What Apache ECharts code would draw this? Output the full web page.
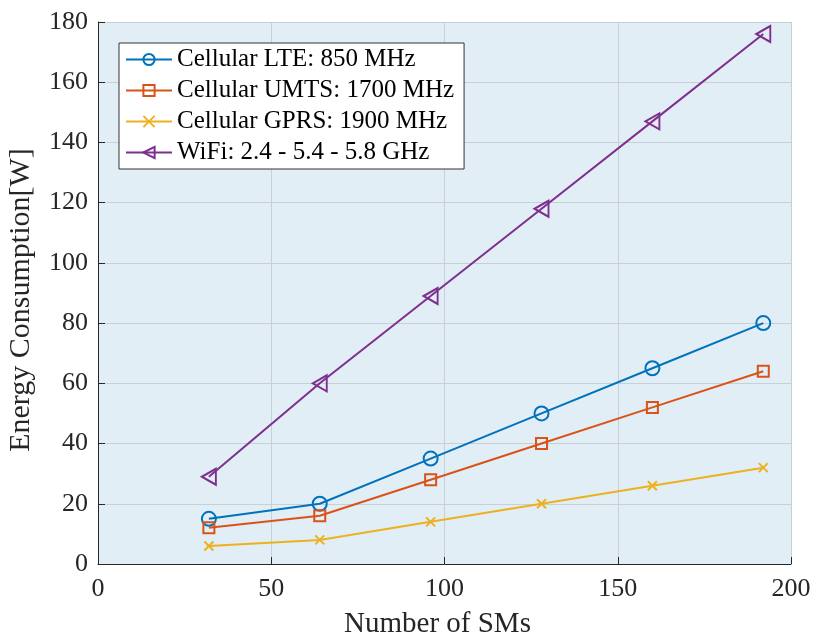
<!DOCTYPE html>
<html>
<head>
<meta charset="utf-8">
<script src="https://cdn.jsdelivr.net/npm/echarts@6/dist/echarts.min.js"></script>
<style>
html, body { margin: 0; padding: 0; background: #fff; }
#main { width: 813px; height: 641px; }
</style>
</head>
<body>
<div id="main"></div>
<script>
var sms = [32, 64, 96, 128, 160, 192];
var lte = [15, 20, 35, 50, 65, 80];
var umts = [12, 16, 28, 40, 52, 64];
var gprs = [6, 8, 14, 20, 26, 32];
var wifi = [29, 60, 89, 118, 147, 176];
var names = ['Cellular LTE: 850 MHz', 'Cellular UMTS: 1700 MHz', 'Cellular GPRS: 1900 MHz', 'WiFi: 2.4 - 5.4 - 5.8 GHz'];

var font = 'Liberation Serif';
var chart = echarts.init(document.getElementById('main'));

function pairs(ys) {
    return sms.map(function (x, i) { return [x, ys[i]]; });
}

function mk(name, ys, color, symbol, size) {
    return {
        name: name,
        type: 'line',
        data: pairs(ys),
        symbol: symbol,
        symbolSize: size,
        showAllSymbol: true,
        lineStyle: { color: color, width: 2 },
        itemStyle: { color: 'rgba(0,0,0,0)', borderColor: color, borderWidth: 2 },
        emphasis: { disabled: true },
        animation: false
    };
}

chart.setOption({
    backgroundColor: '#fff',
    grid: {
        left: 98, right: 22, top: 22, bottom: 77,
        outerBoundsMode: 'none',
        show: true, backgroundColor: '#e2eef5', borderWidth: 0
    },
    legend: {
        orient: 'vertical',
        left: 119, top: 43,
        padding: [4, 10, 4, 6],
        itemGap: 6,
        itemWidth: 46,
        itemHeight: 14,
        backgroundColor: '#fff',
        borderColor: '#333',
        borderWidth: 1,
        borderRadius: 0,
        textStyle: { fontFamily: font, fontSize: 25, color: '#000' },
        data: names
    },
    xAxis: {
        type: 'value', min: 0, max: 200, interval: 50,
        name: 'Number of SMs', nameLocation: 'middle', nameGap: 46,
        nameTextStyle: { fontFamily: font, fontSize: 29, color: '#262626', padding: [0, 14, 0, 0] },
        axisLine: { lineStyle: { color: '#262626', width: 1 } },
        axisTick: { inside: true, length: 7, lineStyle: { color: '#262626' } },
        axisLabel: { fontFamily: font, fontSize: 26, color: '#262626', margin: 12 },
        splitLine: { lineStyle: { color: '#c6d0d6', width: 1 } }
    },
    yAxis: {
        type: 'value', min: 0, max: 180, interval: 20,
        name: 'Energy Consumption[W]', nameLocation: 'middle', nameGap: 62,
        nameTextStyle: { fontFamily: font, fontSize: 30, color: '#262626', padding: [0, 14, 0, 0] },
        axisLine: { show: true, lineStyle: { color: '#262626', width: 1 } },
        axisTick: { show: true, inside: true, length: 7, lineStyle: { color: '#262626' } },
        axisLabel: { fontFamily: font, fontSize: 26, color: '#262626', margin: 10 },
        splitLine: { lineStyle: { color: '#c6d0d6', width: 1 } }
    },
    series: [
        mk(names[0], lte, '#0072BD', 'circle', 14),
        mk(names[1], umts, '#D95319', 'rect', 11),
        mk(names[2], gprs, '#EDB120', 'path://M0,0L10,10M10,0L0,10', 9),
        mk(names[3], wifi, '#7E2F8E', 'path://M0,7L13,0L13,14Z', [14, 16])
    ]
});
</script>
</body>
</html>
